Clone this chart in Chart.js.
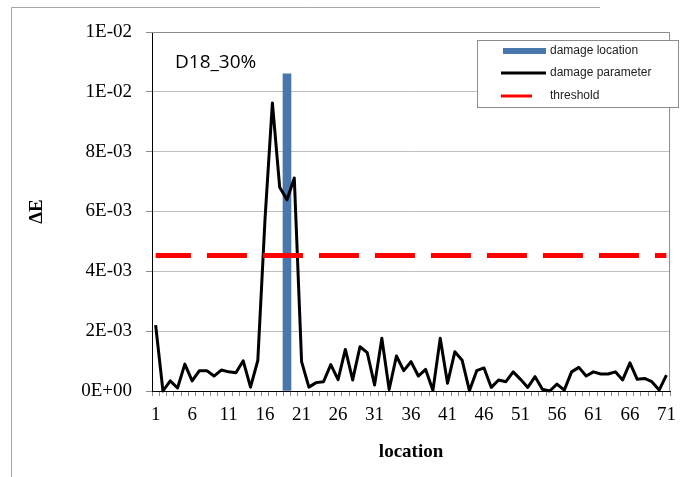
<!DOCTYPE html>
<html>
<head>
<meta charset="utf-8">
<script src="https://cdn.jsdelivr.net/npm/chart.js@4"></script>
<style>
  html, body { margin: 0; padding: 0; background: #fff; }
  canvas { display: block; }
</style>
</head>
<body>
<canvas id="chart" width="684" height="477"></canvas>
<script>
/*******************************************************************************
 * DATA
 */

// measurement locations 1..71
const locations = Array.from({ length: 71 }, (_, i) => String(i + 1));

// damage parameter (delta E) per location
const damageParameter = [
  2.20e-3, 0.00e-3, 0.34e-3, 0.10e-3, 0.90e-3, 0.34e-3, 0.68e-3, 0.68e-3, 0.50e-3, 0.70e-3,
  0.64e-3, 0.61e-3, 1.01e-3, 0.13e-3, 1.02e-3, 5.80e-3, 9.63e-3, 6.81e-3, 6.39e-3, 7.12e-3,
  0.98e-3, 0.13e-3, 0.28e-3, 0.31e-3, 0.88e-3, 0.38e-3, 1.39e-3, 0.37e-3, 1.48e-3, 1.28e-3,
  0.20e-3, 1.76e-3, 0.05e-3, 1.17e-3, 0.68e-3, 0.98e-3, 0.50e-3, 0.72e-3, 0.02e-3, 1.76e-3,
  0.26e-3, 1.31e-3, 1.03e-3, 0.01e-3, 0.68e-3, 0.77e-3, 0.12e-3, 0.37e-3, 0.31e-3, 0.64e-3,
  0.39e-3, 0.12e-3, 0.48e-3, 0.06e-3, 0.00e-3, 0.23e-3, 0.03e-3, 0.64e-3, 0.79e-3, 0.50e-3,
  0.64e-3, 0.57e-3, 0.57e-3, 0.64e-3, 0.37e-3, 0.94e-3, 0.39e-3, 0.42e-3, 0.31e-3, 0.03e-3,
  0.53e-3
];

// actual damaged location, drawn as a single bar
const damageLocation = '19';
const damageBarHeight = 0.0106;

// detection threshold
const threshold = 0.00453;

const caseLabel = 'D18_30%';

/*******************************************************************************
 * HELPERS
 */

// Excel style "0E+00"
function sciFormat(value) {
  const [mant, exp] = value.toExponential(0).split('e');
  const n = parseInt(exp, 10);
  return mant + 'E' + (n < 0 ? '-' : '+') + String(Math.abs(n)).padStart(2, '0');
}

const serif = '"Liberation Serif", "Times New Roman", serif';
const sans = '"Liberation Sans", Arial, sans-serif';

// plot frame, outer chart border, case label and boxed legend
const decorations = {
  id: 'decorations',
  afterDraw(chart) {
    const { ctx, chartArea: area } = chart;
    ctx.save();

    // outer chart border (left + top)
    ctx.strokeStyle = '#a6a6a6';
    ctx.lineWidth = 1;
    ctx.beginPath();
    ctx.moveTo(11.5, 477);
    ctx.lineTo(11.5, 7.5);
    ctx.lineTo(600, 7.5);
    ctx.stroke();

    // top/right edge of plot area
    ctx.strokeStyle = '#8c8c8c';
    ctx.beginPath();
    ctx.moveTo(area.left, area.top + 0.5);
    ctx.lineTo(area.right - 0.5, area.top + 0.5);
    ctx.lineTo(area.right - 0.5, area.bottom);
    ctx.stroke();

    // case label
    ctx.fillStyle = '#000';
    ctx.font = '19px "Open Sans", sans-serif';
    ctx.textBaseline = 'middle';
    ctx.textAlign = 'left';
    ctx.fillText(caseLabel, 175, 63);

    // legend box
    ctx.fillStyle = '#fff';
    ctx.fillRect(477, 40, 202, 68);
    ctx.strokeStyle = '#8c8c8c';
    ctx.strokeRect(477.5, 40.5, 201, 67);

    const ds = chart.data.datasets;
    const rows = [51, 73, 96];
    ctx.font = '12px ' + sans;
    ds.forEach((d, i) => {
      const y = rows[i];
      if (d.type === 'bar') {
        ctx.fillStyle = d.backgroundColor;
        ctx.fillRect(503, y - 3, 43, 6);
      } else {
        ctx.strokeStyle = d.borderColor;
        ctx.lineWidth = 3;
        ctx.beginPath();
        ctx.moveTo(501, y);
        ctx.lineTo(d.borderDash ? 532 : 546, y);
        ctx.stroke();
      }
      ctx.fillStyle = '#222';
      ctx.fillText(d.label, 550, y);
    });

    ctx.restore();
  }
};

/*******************************************************************************
 * CHART
 */

new Chart(document.getElementById('chart'), {
  type: 'bar',
  data: {
    labels: locations,
    datasets: [
      {
        type: 'bar',
        label: 'damage location',
        data: locations.map(l => (l === damageLocation ? damageBarHeight : null)),
        backgroundColor: '#4a76ae',
        barThickness: 8,
        order: 3,
      },
      {
        type: 'line',
        label: 'damage parameter',
        data: damageParameter,
        borderColor: '#000',
        borderWidth: 3,
        borderJoinStyle: 'round',
        pointRadius: 0,
        tension: 0,
        clip: false,
        order: 2,
      },
      {
        type: 'line',
        label: 'threshold',
        data: locations.map(() => threshold),
        borderColor: '#ff0000',
        borderWidth: 5,
        borderDash: [40, 16],
        borderDashOffset: 4.7,
        pointRadius: 0,
        order: 1,
      },
    ],
  },
  options: {
    responsive: false,
    animation: false,
    devicePixelRatio: 1,
    layout: { padding: { top: 32, right: 10, left: 0, bottom: 0 } },
    plugins: {
      legend: { display: false },
      tooltip: { enabled: false },
    },
    scales: {
      x: {
        offset: true,
        afterFit: s => { s.height = 86; },
        grid: {
          offset: true,
          drawOnChartArea: false,
          drawTicks: true,
          tickLength: 5,
          color: '#8c8c8c',
        },
        border: { display: true, color: '#000', width: 1 },
        ticks: {
          autoSkip: false,
          maxRotation: 0,
          padding: 8,
          color: '#000',
          font: { family: serif, size: 19 },
          callback: function (val, idx) {
            return idx % 5 === 0 ? this.getLabelForValue(val) : '';
          },
        },
        title: {
          display: true,
          text: 'location',
          color: '#000',
          font: { family: serif, size: 19, weight: 'bold' },
          padding: { top: 0, bottom: 14 },
        },
      },
      y: {
        min: 0,
        max: 0.012,
        afterFit: s => { s.width = 152; },
        grid: {
          color: '#bfbfbf',
          tickColor: '#8c8c8c',
          tickLength: 6,
        },
        border: { display: true, color: '#000', width: 1 },
        ticks: {
          stepSize: 0.002,
          padding: 14,
          color: '#000',
          font: { family: serif, size: 19 },
          callback: v => sciFormat(v),
        },
        title: {
          display: true,
          text: 'ΔE',
          color: '#000',
          font: { family: serif, size: 19, weight: 'bold' },
          padding: { top: 26, bottom: 0 },
        },
      },
    },
  },
  plugins: [decorations],
});
</script>
</body>
</html>
